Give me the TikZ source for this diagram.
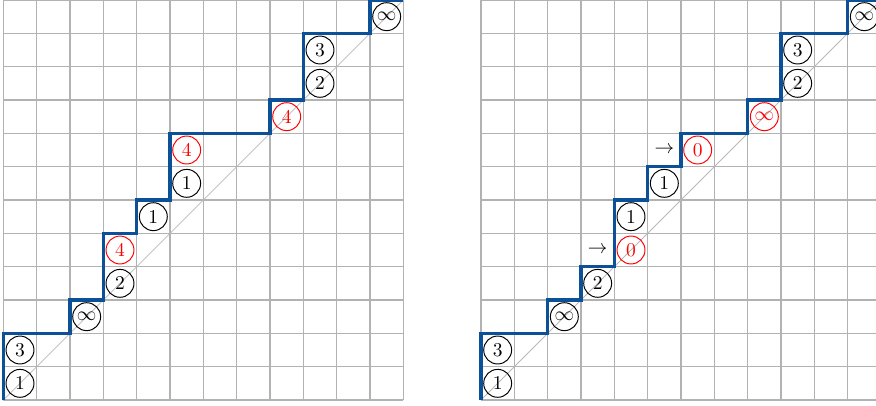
\documentclass[tikz,border=0pt]{standalone}
\definecolor{stairblue}{RGB}{12,80,152}
\begin{document}
\begin{tikzpicture}[x=0.6cm,y=0.6cm,
  gridline/.style={black!30, line width=0.55pt, step=0.6cm},
  diagline/.style={black!28, line width=0.4pt},
  stair/.style={draw=stairblue, line width=1.7pt},
  lab/.style={circle, draw, line width=0.5pt, minimum size=14.3pt, inner sep=0pt, font=\normalsize},
  redlab/.style={lab, red},
  arrlab/.style={inner sep=0pt}]
\useasboundingbox (-0.1,-0.15) rectangle (26.18,12);
% ---------- left grid ----------
\begin{scope}
  \draw[gridline] (0,0) grid (12,12);
  \draw[diagline] (0,0) -- (12,12);
  \draw[stair] (0,0) -- (0,2) -- (2,2) -- (2,3) -- (3,3) -- (3,5) -- (4,5) -- (4,6) -- (5,6) -- (5,8) -- (8,8) -- (8,9) -- (9,9) -- (9,11) -- (11,11) -- (11,12) -- (12,12);
  \node[lab] (La) at (0.5,0.5) {1};
  \node[lab] (Lb) at (0.5,1.5) {3};
  \node[lab] (Lc) at (2.5,2.5) {$\infty$};
  \node[lab] (Ld) at (3.5,3.5) {2};
  \node[redlab] (Le) at (3.5,4.5) {4};
  \node[lab] (Lf) at (4.5,5.5) {1};
  \node[lab] (Lg) at (5.5,6.5) {1};
  \node[redlab] (Lh) at (5.5,7.5) {4};
  \node[redlab] (Li) at (8.5,8.5) {4};
  \node[lab] (Lj) at (9.5,9.5) {2};
  \node[lab] (Lk) at (9.5,10.5) {3};
  \node[lab] (Ll) at (11.5,11.5) {$\infty$};
\end{scope}
% ---------- right grid ----------
\begin{scope}[shift={(14.33,0)}]
  \draw[gridline] (0,0) grid (12,12);
  \draw[diagline] (0,0) -- (12,12);
  \draw[stair] (0,0) -- (0,2) -- (2,2) -- (2,3) -- (3,3) -- (3,4) -- (4,4) -- (4,6) -- (5,6) -- (5,7) -- (6,7) -- (6,8) -- (8,8) -- (8,9) -- (9,9) -- (9,11) -- (11,11) -- (11,12) -- (12,12);
  \node[lab] (Ra) at (0.5,0.5) {1};
  \node[lab] (Rb) at (0.5,1.5) {3};
  \node[lab] (Rc) at (2.5,2.5) {$\infty$};
  \node[lab] (Rd) at (3.5,3.5) {2};
  \node[arrlab] (Rx) at (3.5,4.5) {$\to$};
  \node[redlab] (Re) at (4.5,4.5) {0};
  \node[lab] (Rf) at (4.5,5.5) {1};
  \node[lab] (Rg) at (5.5,6.5) {1};
  \node[arrlab] (Ry) at (5.5,7.5) {$\to$};
  \node[redlab] (Rh) at (6.5,7.5) {0};
  \node[redlab] (Ri) at (8.5,8.5) {$\infty$};
  \node[lab] (Rj) at (9.5,9.5) {2};
  \node[lab] (Rk) at (9.5,10.5) {3};
  \node[lab] (Rl) at (11.5,11.5) {$\infty$};
\end{scope}
\end{tikzpicture}
\end{document}
